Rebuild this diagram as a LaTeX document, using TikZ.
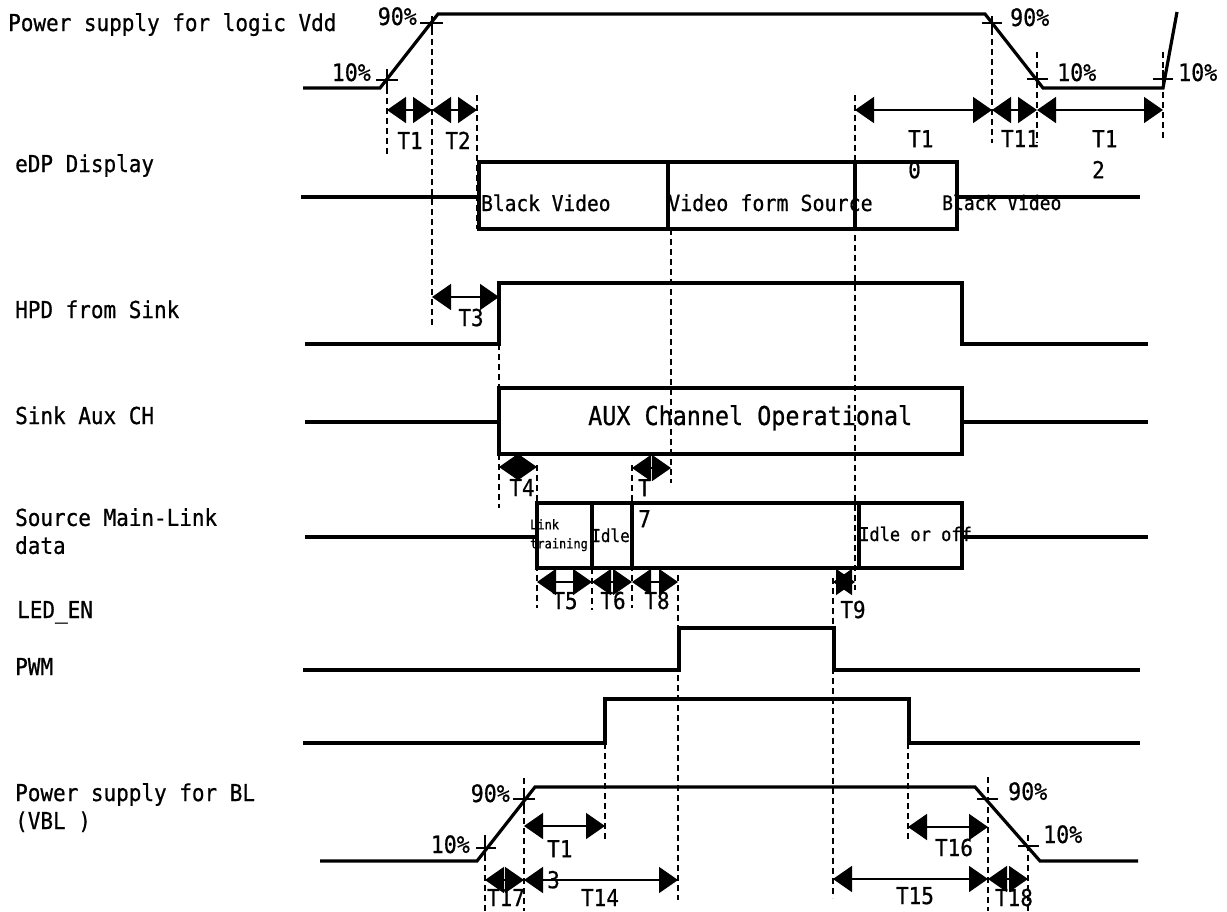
\documentclass[tikz,border=0pt]{standalone}
\usepackage{fontspec}
\setmainfont{DejaVu Sans Mono}[FakeStretch=0.9, FakeBold=0.7]
\usetikzlibrary{arrows.meta}

\begin{document}
\begin{tikzpicture}[
        x=1pt, y=-1pt,
        sig/.style={line width=3.2pt, line join=miter},
        guide/.style={line width=1.3pt, dash pattern=on 6pt off 4pt},
        tick/.style={line width=2pt},
        span/.style={{Triangle[length=19pt,width=26pt]}-{Triangle[length=19pt,width=26pt]}, line width=1.7pt},
        rowlbl/.style={inner sep=0pt, anchor=base west, font={\fontsize{23.3}{28}\selectfont}},
        tlbl/.style={inner sep=0pt, anchor=base, font={\fontsize{23.3}{31}\selectfont}},
        pct/.style={inner sep=0pt, font={\fontsize{24}{26}\selectfont}},
        boxtxt/.style={inner sep=0pt, anchor=base west}
    ]
    \useasboundingbox (0,0) rectangle (1227,911);

    \node[rowlbl] (vddlbl) at (8,31) {Power supply for logic Vdd};
    \node[rowlbl] (edplbl) at (15,172) {eDP Display};
    \node[rowlbl] (hpdlbl) at (15,318) {HPD from Sink};
    \node[rowlbl] (auxlbl) at (15,424) {Sink Aux CH};
    \node[rowlbl, anchor=north west, align=left] (srclbl) at (15,508) {Source Main-Link\\data};
    \node[rowlbl] (ledlbl) at (17,618) {LED\_EN};
    \node[rowlbl] (pwmlbl) at (15,675) {PWM};
    \node[rowlbl, anchor=north west, align=left] (vbllbl) at (15,783) {Power supply for BL\\(VBL )};

    \draw[sig] (303,88) -- (380,88) -- (438,14) -- (985,14) -- (1043,88) -- (1163,88) -- (1177,12);
    \draw[sig] (301,197) -- (479,197);
    \draw[sig] (479,162) rectangle (957,229);
    \draw[sig] (668,162) -- (668,229);
    \draw[sig] (855,162) -- (855,229);
    \draw[sig] (957,197) -- (1140,197);
    \draw[sig] (305,344) -- (499,344) -- (499,283) -- (962,283) -- (962,344) -- (1148,344);
    \draw[sig] (305,422) -- (499,422);
    \draw[sig] (499,388) rectangle (962,454);
    \draw[sig] (962,422) -- (1148,422);
    \draw[sig] (305,537) -- (537,537);
    \draw[sig] (537,503) rectangle (962,568);
    \draw[sig] (592,503) -- (592,568);
    \draw[sig] (632,503) -- (632,568);
    \draw[sig] (859,503) -- (859,568);
    \draw[sig] (962,537) -- (1148,537);
    \draw[sig] (303,670) -- (679,670) -- (679,628) -- (834,628) -- (834,670) -- (1140,670);
    \draw[sig] (303,743) -- (605,743) -- (605,699) -- (909,699) -- (909,743) -- (1140,743);
    \draw[sig] (320,861) -- (477,861) -- (535,787) -- (975,787) -- (1040,861) -- (1138,861);

    \draw[tick] (376,80) -- (398,80) (387,69) -- (387,88);
    \draw[tick] (420,23) -- (443,23) (432,16) -- (432,29);
    \draw[tick] (982,23) -- (1002,23) (992,16) -- (992,29);
    \draw[tick] (1027,79) -- (1048,79);
    \draw[tick] (1153,79) -- (1173,79) (1163,70) -- (1163,86);
    \draw[tick] (476,848) -- (496,848) (485,838) -- (485,856);
    \draw[tick] (513,799) -- (535,799) (524,790) -- (524,808);
    \draw[tick] (977,799) -- (998,799);
    \draw[tick] (1018,846) -- (1039,846);

    \draw[guide] (387,88) -- (387,157);
    \draw[guide] (432,29) -- (432,325);
    \draw[guide] (477,95) -- (477,229);
    \draw[guide] (855,95) -- (855,590);
    \draw[guide] (992,29) -- (992,143);
    \draw[guide] (1037,52) -- (1037,143);
    \draw[guide] (1163,52) -- (1163,140);
    \draw[guide] (499,344) -- (499,508);
    \draw[guide] (537,465) -- (537,608);
    \draw[guide] (592,568) -- (592,610);
    \draw[guide] (632,465) -- (632,608);
    \draw[guide] (671,229) -- (671,483);
    \draw[guide] (678,575) -- (678,900);
    \draw[guide] (605,743) -- (605,840);
    \draw[guide] (524,778) -- (524,911);
    \draw[guide] (485,835) -- (485,911);
    \draw[guide] (833,578) -- (833,898);
    \draw[guide] (908,743) -- (908,842);
    \draw[guide] (988,777) -- (988,911);
    \draw[guide] (1028,835) -- (1028,911);

    \coordinate (a1) at (387,110);
    \coordinate (a2) at (432,110);
    \coordinate (a3) at (477,110);
    \coordinate (a4) at (855,110);
    \coordinate (a5) at (992,110);
    \coordinate (a6) at (1037,110);
    \coordinate (a7) at (1163,110);
    \coordinate (b1) at (432,297);
    \coordinate (b2) at (499,297);
    \coordinate (c1) at (499,467);
    \coordinate (c2) at (537,467);
    \coordinate (c3) at (632,468);
    \coordinate (c4) at (671,468);
    \coordinate (d1) at (537,582);
    \coordinate (d2) at (592,582);
    \coordinate (d3) at (632,582);
    \coordinate (d4) at (678,582);
    \coordinate (d5) at (833,582);
    \coordinate (d6) at (855,582);
    \coordinate (e1) at (524,826);
    \coordinate (e2) at (605,826);
    \coordinate (e3) at (908,827);
    \coordinate (e4) at (988,827);
    \coordinate (f1) at (485,880);
    \coordinate (f2) at (524,880);
    \coordinate (f3) at (678,880);
    \coordinate (f4) at (833,879);
    \coordinate (f5) at (988,879);
    \coordinate (f6) at (1028,879);

    \draw[span] (a1) -- (a2);
    \draw[span] (a2) -- (a3);
    \draw[span] (a4) -- (a5);
    \draw[span] (a5) -- (a6);
    \draw[span] (a6) -- (a7);
    \draw[span] (b1) -- (b2);
    \draw[span] (c1) -- (c2);
    \draw[span] (c3) -- (c4);
    \draw[span] (d1) -- (d2);
    \draw[span] (d2) -- (d3);
    \draw[span] (d3) -- (d4);
    \draw[span] (d5) -- (d6);
    \draw[span] (e1) -- (e2);
    \draw[span] (e3) -- (e4);
    \draw[span] (f1) -- (f2);
    \draw[span] (f2) -- (f3);
    \draw[span] (f4) -- (f5);
    \draw[span] (f5) -- (f6);

    \node[boxtxt, font={\fontsize{21.7}{23}\selectfont}] (bv1) at (481,211) {Black Video};
    \node[boxtxt, font={\fontsize{22.2}{24}\selectfont}] (vfs) at (668,211) {Video form Source};
    \node[boxtxt, font={\fontsize{20}{22}\selectfont}] (bv2) at (942,210) {Black Video};
    \node[boxtxt, font={\fontsize{26}{28}\selectfont}] (auxop) at (588,425) {AUX Channel Operational};
    \node[inner sep=0pt, anchor=north west, align=left, font={\fontsize{13.3}{19}\selectfont}] (lt) at (530,519) {Link\\training};
    \node[boxtxt, font={\fontsize{17.8}{19}\selectfont}] (idl) at (591,542) {Idle};
    \node[boxtxt, font={\fontsize{18.9}{20}\selectfont}] (idloff) at (859,541) {Idle or off};

    \node[pct, anchor=base east] (p1) at (371,81) {10\%};
    \node[pct, anchor=base east] (p2) at (417,25) {90\%};
    \node[pct, anchor=base west] (p3) at (1010,26) {90\%};
    \node[pct, anchor=base west] (p4) at (1057,81) {10\%};
    \node[pct, anchor=base west] (p5) at (1178,81) {10\%};
    \node[pct, anchor=base east] (p6) at (510,802) {90\%};
    \node[pct, anchor=base east] (p7) at (470,853) {10\%};
    \node[pct, anchor=base west] (p8) at (1008,800) {90\%};
    \node[pct, anchor=base west] (p9) at (1043,843) {10\%};

    \node[tlbl] (t1) at (410,149) {T1};
    \node[tlbl] (t2) at (458,149) {T2};
    \node[tlbl] (t3) at (471,326) {T3};
    \node[tlbl] (t4) at (522,496) {T4};
    \node[tlbl, anchor=north west, align=left] (t7) at (638,479) {T\\7};
    \node[tlbl] (t5) at (565,609) {T5};
    \node[tlbl] (t6) at (613,609) {T6};
    \node[tlbl] (t8) at (657,609) {T8};
    \node[tlbl] (t9) at (853,618) {T9};
    \node[tlbl, anchor=north west, align=left] (t10) at (908,130) {T1\\0};
    \node[tlbl] (t11) at (1020,147) {T11};
    \node[tlbl, anchor=north west, align=left] (t12) at (1092,130) {T1\\2};
    \node[tlbl, anchor=north west, align=left] (t13) at (547,840) {T1\\3};
    \node[tlbl] (t16) at (954,856) {T16};
    \node[tlbl] (t17) at (506,906) {T17};
    \node[tlbl] (t14) at (600,906) {T14};
    \node[tlbl] (t15) at (915,904) {T15};
    \node[tlbl] (t18) at (1014,906) {T18};

\end{tikzpicture}
\end{document}
